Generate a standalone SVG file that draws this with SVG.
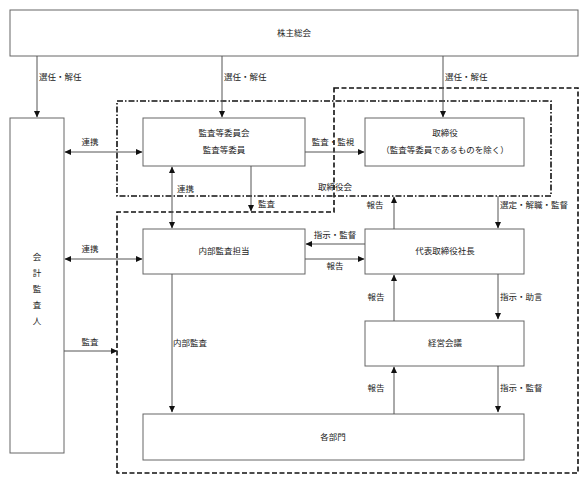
<svg xmlns="http://www.w3.org/2000/svg" width="588" height="487" viewBox="0 0 588 487">
<style>
.box{fill:#fff;stroke:#666;stroke-width:1}
.t{font-family:"Noto Sans CJK JP","Noto Sans CJK SC",sans-serif;font-size:8.5px;fill:#222}
.c{text-anchor:middle}
.ln{stroke:#555;stroke-width:1;fill:none}
.dash{stroke:#111;stroke-width:1.6;fill:none;stroke-dasharray:5,2.5}
.dashdot{stroke:#111;stroke-width:1.6;fill:none;stroke-dasharray:6,2,1.5,2}
</style>
<defs>
<marker id="ah" markerWidth="7" markerHeight="7" refX="6" refY="3.5" orient="auto-start-reverse" markerUnits="userSpaceOnUse">
<path d="M0,0.5 L6.5,3.5 L0,6.5 Z" fill="#111"/>
</marker>
</defs>
<rect width="588" height="487" fill="#fff"/>
<g id="group-boards">
<rect class="dashdot" x="117" y="101" width="434" height="95"/>
<polygon class="dash" points="334,88 578,88 578,473 117,473 117,212 334,212"/>
<text class="t c" x="335" y="190">取締役会</text>
</g>
<g id="shareholders"><rect class="box" x="10" y="10" width="568" height="46"/><text class="t c" x="294" y="36">株主総会</text></g>
<g id="auditor"><rect class="box" x="10" y="118" width="54" height="335"/>
<text class="t c" x="37" y="260">会</text><text class="t c" x="37" y="276">計</text><text class="t c" x="37" y="292">監</text><text class="t c" x="37" y="308">査</text><text class="t c" x="37" y="324">人</text></g>
<g id="audit-committee"><rect class="box" x="143" y="118" width="162" height="48"/><text class="t c" x="224" y="136">監査等委員会</text><text class="t c" x="224" y="153">監査等委員</text></g>
<g id="directors"><rect class="box" x="365" y="118" width="159" height="48"/><text class="t c" x="445" y="136">取締役</text><text class="t c" x="445" y="153">（監査等委員であるものを除く）</text></g>
<g id="internal-audit"><rect class="box" x="143" y="229" width="162" height="45"/><text class="t c" x="224" y="254">内部監査担当</text></g>
<g id="president"><rect class="box" x="365" y="229" width="159" height="45"/><text class="t c" x="445" y="254">代表取締役社長</text></g>
<g id="management-meeting"><rect class="box" x="365" y="321" width="159" height="45"/><text class="t c" x="445" y="346">経営会議</text></g>
<g id="departments"><rect class="box" x="143" y="414" width="381" height="46"/><text class="t c" x="333" y="440">各部門</text></g>
<g id="connectors">
<line class="ln" x1="37" y1="56" x2="37" y2="117" marker-end="url(#ah)"/>
<line class="ln" x1="222" y1="56" x2="222" y2="117" marker-end="url(#ah)"/>
<line class="ln" x1="443" y1="56" x2="443" y2="117" marker-end="url(#ah)"/>
<line class="ln" x1="65" y1="152" x2="142" y2="152" marker-start="url(#ah)" marker-end="url(#ah)"/>
<line class="ln" x1="305" y1="152" x2="364" y2="152" marker-end="url(#ah)"/>
<line class="ln" x1="172" y1="167" x2="172" y2="228" marker-start="url(#ah)" marker-end="url(#ah)"/>
<line class="ln" x1="251" y1="166" x2="251" y2="211" marker-end="url(#ah)"/>
<line class="ln" x1="365" y1="244" x2="306" y2="244" marker-end="url(#ah)"/>
<line class="ln" x1="305" y1="259" x2="364" y2="259" marker-end="url(#ah)"/>
<line class="ln" x1="394" y1="229" x2="394" y2="197" marker-end="url(#ah)"/>
<line class="ln" x1="498" y1="196" x2="498" y2="228" marker-end="url(#ah)"/>
<line class="ln" x1="394" y1="321" x2="394" y2="275" marker-end="url(#ah)"/>
<line class="ln" x1="498" y1="274" x2="498" y2="319" marker-end="url(#ah)"/>
<line class="ln" x1="394" y1="414" x2="394" y2="367" marker-end="url(#ah)"/>
<line class="ln" x1="498" y1="366" x2="498" y2="412" marker-end="url(#ah)"/>
<line class="ln" x1="172" y1="274" x2="172" y2="412" marker-end="url(#ah)"/>
<line class="ln" x1="65" y1="259" x2="142" y2="259" marker-start="url(#ah)" marker-end="url(#ah)"/>
<line class="ln" x1="64" y1="351" x2="117" y2="351" marker-end="url(#ah)"/>
<text class="t" x="39" y="80">選任・解任</text>
<text class="t" x="224" y="80">選任・解任</text>
<text class="t" x="445" y="80">選任・解任</text>
<text class="t c" x="90" y="145">連携</text>
<text class="t c" x="333" y="145">監査・監視</text>
<text class="t" x="177" y="192">連携</text>
<text class="t" x="258" y="207">監査</text>
<text class="t c" x="335" y="238">指示・監督</text>
<text class="t c" x="335" y="269">報告</text>
<text class="t c" x="375" y="208">報告</text>
<text class="t" x="500" y="208">選定・解職・監督</text>
<text class="t c" x="376" y="300">報告</text>
<text class="t" x="500" y="300">指示・助言</text>
<text class="t c" x="376" y="391">報告</text>
<text class="t" x="500" y="391">指示・監督</text>
<text class="t" x="173" y="346">内部監査</text>
<text class="t c" x="90" y="252">連携</text>
<text class="t c" x="90" y="345">監査</text>
</g>
</svg>
